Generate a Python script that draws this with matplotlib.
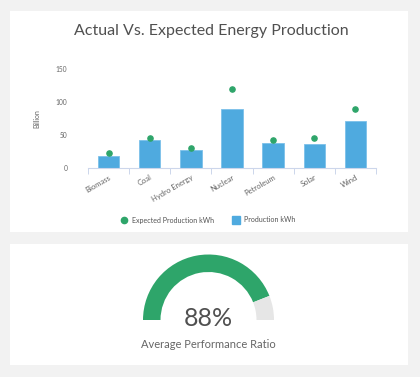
import matplotlib
matplotlib.use("Agg")
import matplotlib.pyplot as plt
from matplotlib.patches import Rectangle, Wedge
from matplotlib.lines import Line2D
import numpy as np

plt.rcParams['font.family'] = ['Lato', 'DejaVu Sans']

categories = ["Biomass", "Coal", "Hydro Energy", "Nuclear", "Petroleum", "Solar", "Wind"]
production = [18, 43, 28, 90, 38, 37, 71]
expected = [22, 46, 30, 120, 42, 46, 89]
y_ticks = [0, 50, 100, 150]
ratio = 88

W, H = 420, 377
fig = plt.figure(figsize=(W / 100, H / 100), dpi=100)
fig.patch.set_facecolor("#f2f2f2")

def px(x0, y0, x1, y1):
    return [x0 / W, 1 - y1 / H, (x1 - x0) / W, (y1 - y0) / H]

# panels
for (x0, y0, x1, y1) in [(10, 11, 408, 232), (10, 244, 408, 365)]:
    fig.patches.append(Rectangle((x0 / W, 1 - y1 / H), (x1 - x0) / W, (y1 - y0) / H,
                                 transform=fig.transFigure, facecolor="white",
                                 edgecolor="none", zorder=-10))

fig.text(211 / W, 1 - 31 / H, "Actual Vs. Expected Energy Production",
         ha="center", va="center", fontsize=11.5, color="#505050")

blue = "#4faadf"
green = "#2ea56a"

ax = fig.add_axes(px(88, 69, 376, 168))
ax.set_facecolor("none")
x = np.arange(len(categories))
ax.bar(x, production, width=0.52, color=blue, edgecolor="#7cc0ea", linewidth=0.6, zorder=2)
ax.scatter(x, expected, s=14, color=green, zorder=3)
ax.set_xlim(-0.5, len(categories) - 0.5)
ax.set_ylim(0, 150)
ax.set_yticks(y_ticks)
ax.set_yticklabels([str(v) for v in y_ticks], fontsize=4.8, color="#666666")
ax.tick_params(axis="y", length=0, pad=15)
ax.set_xticks(x)
ax.set_xticklabels(categories, rotation=30, ha="right", rotation_mode="anchor",
                   fontsize=5.5, color="#666666")
ax.tick_params(axis="x", length=0, pad=4)
ax.set_xticks(np.arange(len(categories) + 1) - 0.5, minor=True)
ax.tick_params(axis="x", which="minor", length=4, width=0.7, color="#ccd6eb")
for s in ["top", "right", "left"]:
    ax.spines[s].set_visible(False)
ax.spines["bottom"].set_color("#ccd6eb")
ax.spines["bottom"].set_linewidth(0.8)
ax.set_ylabel("Billion", fontsize=5, color="#666666")
ax.yaxis.set_label_coords(-0.165, 0.5)

handles = [Line2D([], [], marker="o", linestyle="none", markersize=4.5,
                  markerfacecolor=green, markeredgecolor=green),
           Line2D([], [], marker="s", linestyle="none", markersize=6,
                  markerfacecolor=blue, markeredgecolor=blue)]
fig.legend(handles, ["Expected Production kWh", "Production kWh"],
           loc="center", bbox_to_anchor=(208 / W, 1 - 220 / H), ncol=2,
           frameon=False, fontsize=5.1, labelcolor="#555555",
           handletextpad=0.6, columnspacing=2.6, handlelength=1)

# gauge
gax = fig.add_axes([0, 0, 1, 1])
gax.set_xlim(0, W)
gax.set_ylim(0, H)
gax.axis("off")
cx, cy, r, w = 208.5, H - 320, 65.5, 17.5
ang = 180 - 180 * ratio / 100
gax.add_patch(Wedge((cx, cy), r, ang, 180, width=w, facecolor=green, edgecolor="none"))
gax.add_patch(Wedge((cx, cy), r, 0, ang, width=w, facecolor="#e6e6e6", edgecolor="none"))
gax.text(cx, H - 318, f"{ratio}%", ha="center", va="center", fontsize=18, color="#505050")
gax.text(cx, H - 345, "Average Performance Ratio", ha="center", va="center",
         fontsize=8, color="#666666")

fig.savefig("out.png", dpi=100, facecolor=fig.get_facecolor())
